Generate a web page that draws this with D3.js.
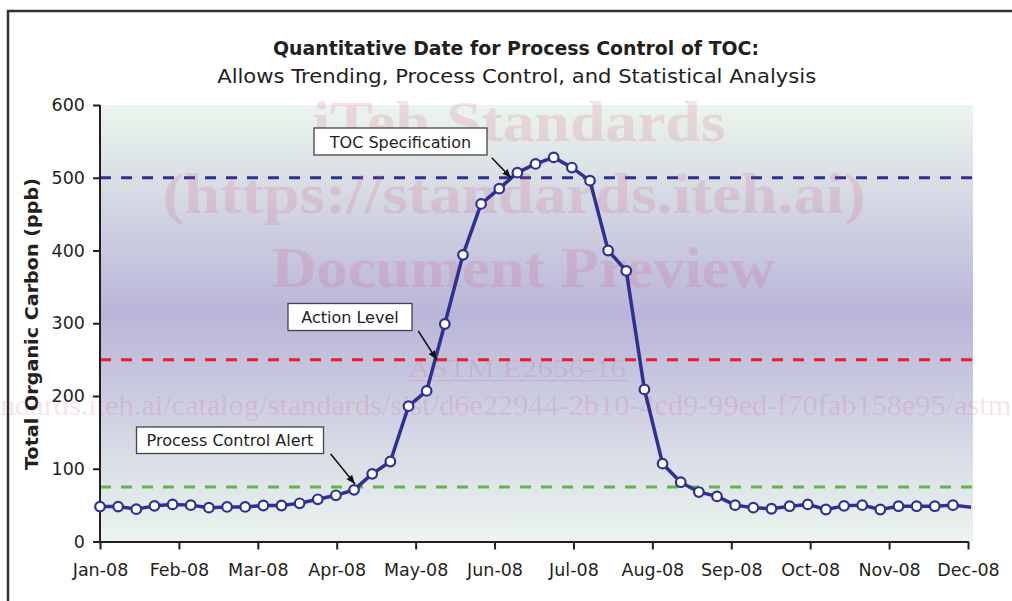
<!DOCTYPE html>
<html><head><meta charset="utf-8">
<script src="https://cdn.jsdelivr.net/npm/d3@7"></script>
<style>
html,body{margin:0;padding:0;background:#fff;}
svg{display:block;}
</style></head>
<body>
<svg id="chart" width="1012" height="601"></svg>
<script>
// ---------- data ----------
const monthLabels = ["Jan-08","Feb-08","Mar-08","Apr-08","May-08","Jun-08","Jul-08","Aug-08","Sep-08","Oct-08","Nov-08","Dec-08"];
// weekly TOC values (ppb), week 0 = first week of Jan-08
const tocValues = [48,48,44.5,49,51,50,46.5,47.5,47.5,49.5,49.5,52.5,58,63.5,71,93,110,186,207,299,394,464,485,507,519,528,514,496,400,372,209,107,81.5,68,62,50,46.5,45,48.5,51,44,49,50,44,48.5,48.5,48.5,50,47];
const yTicks = [0,100,200,300,400,500,600];
const limitValues = [500, 250, 75];
const limitNames = ["TOC Specification","Action Level","Process Control Alert"];
const titleText = "Quantitative Date for Process Control of TOC:";
const subtitleText = "Allows Trending, Process Control, and Statistical Analysis";
const yTitle = "Total Organic Carbon (ppb)";
const watermarkBig = ["iTeh Standards","(https://standards.iteh.ai)","Document Preview"];
const watermarkId = "ASTM E2656-16";
const watermarkUrl = "https://standards.iteh.ai/catalog/standards/sist/d6e22944-2b10-4cd9-99ed-f70fab158e95/astm-e2656-16";

// ---------- layout / style ----------
const WEEKS_PER_MONTH = 365.25 / 12 / 7;
const plot = {left:100, right:973, top:105, bottom:541.5};
const limitColors = ["#2e3192", "#ee1c25", "#5cb946"];
const annot = [
  {box:[314,128,173,27], tipWeek:22.65, tail:[491.7,157.7]},
  {box:[288,303.5,124,27], tipWeek:18.55, tail:[418.3,331]},
  {box:[136.5,427,187,26.5], tipWeek:14.05, tail:[330.7,454]}
];
const FONT = "'DejaVu Sans', Verdana, sans-serif";

const svg = d3.select("#chart");
const x = d3.scaleLinear().domain([0, 11*WEEKS_PER_MONTH]).range([100, 968]);
const y = d3.scaleLinear().domain([0, 600]).range([plot.bottom, plot.top]);

// frame
svg.append("path").attr("d","M8,601 L8,11 L1012,11").attr("fill","none").attr("stroke","#333").attr("stroke-width",2.5);

// gradient background
const defs = svg.append("defs");
const g = defs.append("linearGradient").attr("id","bg").attr("x1",0).attr("y1",0).attr("x2",0).attr("y2",1);
g.append("stop").attr("offset","0%").attr("stop-color","#ebf5ec");
g.append("stop").attr("offset","48%").attr("stop-color","#b9b5d9");
g.append("stop").attr("offset","100%").attr("stop-color","#ecf5ee");
svg.append("rect").attr("x",plot.left).attr("y",plot.top).attr("width",plot.right-plot.left).attr("height",plot.bottom-plot.top).attr("fill","url(#bg)");

// titles
function fitText(sel, w){ sel.attr("textLength", w).attr("lengthAdjust","spacingAndGlyphs"); return sel; }
fitText(svg.append("text").attr("x",516).attr("y",55).attr("text-anchor","middle")
  .attr("font-family",FONT).attr("font-weight","bold").attr("font-size",19).attr("fill","#231f20").text(titleText), 486);
fitText(svg.append("text").attr("x",516.7).attr("y",83).attr("text-anchor","middle")
  .attr("font-family",FONT).attr("font-size",19.5).attr("fill","#231f20").text(subtitleText), 599);

// limit lines
svg.selectAll(".limit").data(limitValues).join("line")
  .attr("x1", x(0)).attr("x2", plot.right+4)
  .attr("y1", d=>y(d)).attr("y2", d=>y(d))
  .attr("stroke", (d,i)=>limitColors[i]).attr("stroke-width",3)
  .attr("stroke-dasharray","11,10");

// watermark
const wm = svg.append("g").attr("fill","rgb(215,70,120)").attr("fill-opacity",0.16).attr("font-family","'Liberation Serif','Times New Roman',serif");
const bigPos = [[519,141,413],[514,213,703],[523,287,503]];
watermarkBig.forEach((t,i)=>{
  fitText(wm.append("text").attr("x",bigPos[i][0]).attr("y",bigPos[i][1]).attr("text-anchor","middle")
    .attr("font-weight","bold").attr("font-size",58).text(t), bigPos[i][2]);
});
fitText(wm.append("text").attr("x",517).attr("y",377).attr("text-anchor","middle").attr("font-size",26).text(watermarkId),218);
wm.append("rect").attr("x",408).attr("y",380).attr("width",220).attr("height",1.3);
const urlT = wm.append("text").attr("x",0).attr("y",0).attr("font-size",26).text(watermarkUrl);
{
  const node = urlT.node();
  const i0 = watermarkUrl.indexOf("ndards");
  const i1 = watermarkUrl.indexOf("/astm") + 4;
  const a = node.getStartPositionOfChar(i0).x;
  const b = node.getEndPositionOfChar(i1).x;
  const k = 1012 / (b - a);
  urlT.attr("transform", `translate(${-a*k},415) scale(${k})`);
}

// axes
const xAxis = d3.axisBottom(x).tickValues(monthLabels.map((d,i)=>i*WEEKS_PER_MONTH))
  .tickFormat((d,i)=>monthLabels[i]).tickSizeInner(8).tickSizeOuter(0).tickPadding(14);
const gx = svg.append("g").attr("transform",`translate(0,${plot.bottom})`).call(xAxis);
const yAxis = d3.axisLeft(y).tickValues(yTicks).tickSizeInner(7).tickSizeOuter(0).tickPadding(8);
const gy = svg.append("g").attr("transform",`translate(${plot.left},0)`).call(yAxis);
[gx,gy].forEach(a=>{
  a.selectAll("path,line").attr("stroke","#231f20").attr("stroke-width",2);
  a.selectAll("text").attr("fill","#231f20").attr("font-family",FONT).attr("font-size",17.5);
});
gy.select(".domain").attr("d",`M0,${plot.bottom}V${plot.top}`);

// y title
fitText(svg.append("text").attr("transform",`translate(38,324) rotate(-90)`).attr("text-anchor","middle")
  .attr("font-family",FONT).attr("font-weight","bold").attr("font-size",18).attr("fill","#231f20").text(yTitle),292);

// data line
const pts = tocValues.map((v,i)=>({w:i, v}));
svg.append("path").datum(pts)
  .attr("fill","none").attr("stroke","#2e3192").attr("stroke-width",3.5).attr("stroke-linejoin","round")
  .attr("d", d3.line().x(d=>x(d.w)).y(d=>y(d.v)));
svg.selectAll(".pt").data(pts.filter(d=>x(d.w)+4 <= plot.right)).join("circle")
  .attr("cx",d=>x(d.w)).attr("cy",d=>y(d.v)).attr("r",4.8)
  .attr("fill","#fff").attr("stroke","#2e3192").attr("stroke-width",2.2);

// annotations
defs.append("marker").attr("id","arr").attr("viewBox","0 0 10 10").attr("refX",10).attr("refY",5)
  .attr("markerWidth",9).attr("markerHeight",9).attr("markerUnits","userSpaceOnUse").attr("orient","auto")
  .append("path").attr("d","M0,1 L10,5 L0,9 Z").attr("fill","#111");
annot.forEach((a,i)=>{
  const [bx,by,bw,bh] = a.box;
  svg.append("rect").attr("x",bx).attr("y",by).attr("width",bw).attr("height",bh)
    .attr("fill","#fff").attr("stroke","#444").attr("stroke-width",1.3);
  svg.append("text").attr("x",bx+bw/2).attr("y",by+bh/2+6).attr("text-anchor","middle")
    .attr("font-family",FONT).attr("font-size",16).attr("fill","#231f20").text(limitNames[i]);
  svg.append("line").attr("x1",a.tail[0]).attr("y1",a.tail[1])
    .attr("x2",x(a.tipWeek)).attr("y2",y(limitValues[i])+ (i===2 ? -3 : 0))
    .attr("stroke","#111").attr("stroke-width",1.5).attr("marker-end","url(#arr)");
});
</script>
</body></html>
